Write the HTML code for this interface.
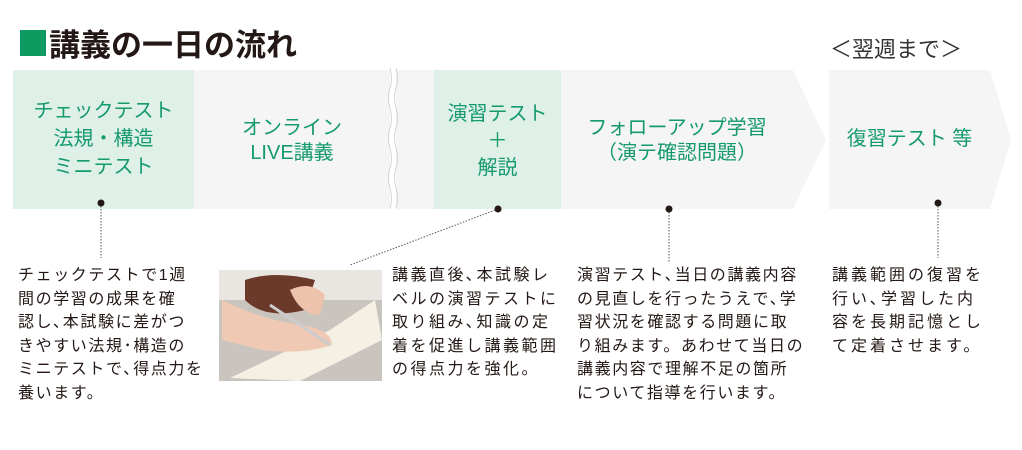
<!DOCTYPE html>
<html><head><meta charset="utf-8"><style>
body{margin:0;width:1022px;height:450px;background:#fff;position:relative;overflow:hidden;font-family:"Liberation Sans","Noto Sans CJK JP",sans-serif;}
.a{position:absolute}
.t{color:#159a6c;font-size:20px;text-align:center;line-height:25px}
.p{position:absolute;font-size:16px;line-height:23.5px;color:#231815;letter-spacing:2px;white-space:nowrap}
</style></head><body>
<div class="a" style="left:20px;top:30px;width:26px;height:26px;background:#0f9a62"></div>
<div class="a" style="left:49px;top:20px;font-size:31px;font-weight:bold;color:#231815;letter-spacing:0px">講義の一日の流れ</div>
<div class="a" style="left:830px;top:32px;font-size:22px;color:#333">＜翌週まで＞</div>
<svg class="a" style="left:0;top:0" width="1022" height="450">
<rect x="13" y="70" width="181" height="139" fill="#dff0e9"/>
<rect x="194" y="70" width="196" height="139" fill="#f5f5f5"/>
<rect x="396" y="70" width="38" height="139" fill="#f5f5f5"/>
<path d="M390 68 q3 10 0 20 q-3 10 0 20 q3 10 0 20 q-3 10 0 20 q3 10 0 20 q-3 10 0 20 q3 10 0 20 L396 211 L396 68Z" fill="#fff"/>
<path d="M390 68 q3 10 0 20 q-3 10 0 20 q3 10 0 20 q-3 10 0 20 q3 10 0 20 q-3 10 0 20 q3 10 0 20" fill="none" stroke="#ccc" stroke-width="0.8"/>
<path d="M396 68 q3 10 0 20 q-3 10 0 20 q3 10 0 20 q-3 10 0 20 q3 10 0 20 q-3 10 0 20 q3 10 0 20" fill="none" stroke="#ccc" stroke-width="0.8"/>
<rect x="434" y="70" width="127" height="139" fill="#dff0e9"/>
<polygon points="561,70 793,70 826,140 793,209 561,209" fill="#f5f5f5"/>
<polygon points="829,70 990,70 1011,140 990,209 829,209" fill="#f5f5f5"/>
<g stroke="#555" stroke-width="1" stroke-dasharray="1.5,1.5" fill="none">
<line x1="101" y1="203" x2="101" y2="258"/>
<line x1="498" y1="209" x2="350" y2="265"/>
<line x1="669" y1="209" x2="669" y2="262"/>
<line x1="938" y1="203" x2="938" y2="258"/>
</g>
<g fill="#231815"><circle cx="101" cy="203" r="3.5"/><circle cx="498" cy="209" r="3.5"/><circle cx="669" cy="209" r="3.5"/><circle cx="938" cy="203" r="3.5"/></g>
<rect x="219" y="270" width="163" height="111" fill="#c9c4bd"/>
<rect x="219" y="270" width="163" height="30" fill="#e9e6e2"/>
<path d="M245 280 q30 -10 70 0 l-10 30 q-40 10 -60 -10z" fill="#6b3a2a"/>
<polygon points="230,378 330,330 375,300 382,340 300,381" fill="#f4f1e4"/>
<path d="M222 300 q40 20 80 25 q30 5 30 20 q-30 10 -70 5 l-40 -10z" fill="#f0c9b4"/>
<path d="M290 290 q20 -10 35 5 l-5 20 q-20 0 -30 -25z" fill="#edc3ad"/>
<line x1="270" y1="305" x2="330" y2="345" stroke="#ccc" stroke-width="3"/>
</svg>
<div class="a t" style="left:13px;top:97px;width:181px;line-height:28px">チェックテスト<br>法規・構造<br>ミニテスト</div>
<div class="a t" style="left:194px;top:116px;width:196px">オンライン<br>LIVE講義</div>
<div class="a t" style="left:434px;top:101px;width:127px;line-height:27px">演習テスト<br>＋<br>解説</div>
<div class="a t" style="left:561px;top:116px;width:232px">フォローアップ学習<br>（演テ確認問題）</div>
<div class="a t" style="left:829px;top:127px;width:161px">復習テスト 等</div>
<div class="p" style="left:18px;top:264px;letter-spacing:1.6px">チェックテストで1週<br>間の学習の成果を確<br>認し､本試験に差がつ<br>きやすい法規･構造の<br>ミニテストで､得点力を<br>養います。</div>
<div class="p" style="left:392px;top:264px;letter-spacing:2.5px">講義直後､本試験レ<br>ベルの演習テストに<br>取り組み､知識の定<br>着を促進し講義範囲<br>の得点力を強化。</div>
<div class="p" style="left:577px;top:264px;letter-spacing:1.6px">演習テスト､当日の講義内容<br>の見直しを行ったうえで､学<br>習状況を確認する問題に取<br>り組みます。あわせて当日の<br>講義内容で理解不足の箇所<br>について指導を行います。</div>
<div class="p" style="left:832px;top:264px;letter-spacing:3px">講義範囲の復習を<br>行い､学習した内<br>容を長期記憶とし<br>て定着させます。</div>
</body></html>
